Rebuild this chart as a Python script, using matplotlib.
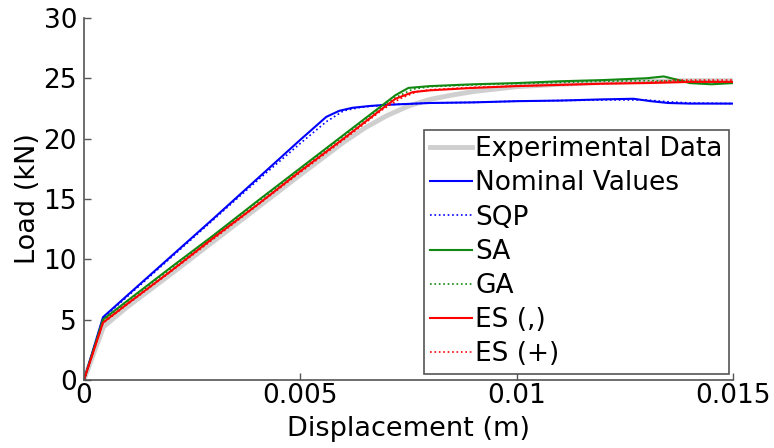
import matplotlib.pyplot as plt

# ---------------- DATA ----------------
exp_x = [0, 0.00045, 0.001, 0.002, 0.003, 0.004, 0.005, 0.006, 0.0065, 0.007,
         0.0075, 0.008, 0.0085, 0.009, 0.010, 0.011, 0.012, 0.013, 0.014, 0.015]
exp_y = [0, 4.4, 6.05, 8.75, 11.5, 14.25, 17.0, 19.7, 20.9, 21.9,
         22.7, 23.25, 23.6, 23.9, 24.3, 24.5, 24.65, 24.75, 24.8, 24.8]

nom_x = [0, 0.00044, 0.001, 0.002, 0.003, 0.004, 0.005, 0.0056, 0.0059, 0.0062, 0.0066,
         0.007, 0.008, 0.009, 0.010, 0.011, 0.012, 0.0127, 0.0131, 0.0135, 0.014, 0.015]
nom_y = [0, 5.2, 7.0, 10.2, 13.4, 16.65, 19.9, 21.8, 22.3, 22.55, 22.7,
         22.8, 22.95, 23.0, 23.1, 23.15, 23.25, 23.3, 23.1, 22.95, 22.9, 22.9]

sqp_x = [0, 0.00044, 0.001, 0.002, 0.003, 0.004, 0.005, 0.0056, 0.006, 0.0064,
         0.007, 0.008, 0.009, 0.010, 0.011, 0.012, 0.013, 0.0135, 0.014, 0.015]
sqp_y = [0, 5.1, 6.9, 10.1, 13.3, 16.5, 19.6, 21.4, 22.3, 22.6,
         22.8, 22.95, 23.0, 23.1, 23.15, 23.2, 23.2, 23.05, 22.95, 22.9]

sa_x = [0, 0.00044, 0.001, 0.002, 0.003, 0.004, 0.005, 0.006, 0.0068, 0.0072, 0.0075,
        0.008, 0.009, 0.010, 0.011, 0.012, 0.013, 0.0134, 0.0138, 0.014, 0.0145, 0.015]
sa_y = [0, 5.0, 6.55, 9.3, 12.0, 14.8, 17.55, 20.3, 22.5, 23.6, 24.2,
        24.35, 24.5, 24.6, 24.75, 24.85, 25.0, 25.15, 24.8, 24.6, 24.5, 24.6]

ga_x = [0, 0.00044, 0.001, 0.002, 0.003, 0.004, 0.005, 0.006, 0.0068, 0.0072, 0.0076,
        0.008, 0.009, 0.010, 0.011, 0.012, 0.013, 0.014, 0.015]
ga_y = [0, 4.9, 6.45, 9.2, 11.9, 14.7, 17.45, 20.2, 22.4, 23.4, 24.1,
        24.3, 24.45, 24.55, 24.65, 24.75, 24.8, 24.75, 24.7]

esc_x = [0, 0.00044, 0.001, 0.002, 0.003, 0.004, 0.005, 0.006, 0.0069, 0.0072, 0.0076,
         0.008, 0.009, 0.010, 0.011, 0.012, 0.013, 0.014, 0.015]
esc_y = [0, 4.75, 6.3, 9.0, 11.8, 14.5, 17.3, 20.0, 22.5, 23.3, 23.85,
         24.0, 24.2, 24.35, 24.45, 24.55, 24.6, 24.7, 24.7]

esp_x = [0, 0.00044, 0.001, 0.002, 0.003, 0.004, 0.005, 0.006, 0.0069, 0.0073, 0.0077,
         0.008, 0.009, 0.010, 0.011, 0.012, 0.013, 0.0137, 0.014, 0.015]
esp_y = [0, 4.7, 6.25, 8.95, 11.7, 14.45, 17.2, 19.9, 22.4, 23.3, 23.9,
         24.05, 24.25, 24.35, 24.45, 24.55, 24.65, 24.85, 24.85, 24.85]

# ---------------- PLOTTING ----------------
plt.rcParams['font.family'] = ['DejaVu Sans']
fig = plt.figure(figsize=(7.74, 4.48), dpi=100)
ax = fig.add_axes([0.1085, 0.152, 0.8385, 0.808])

ax.plot(exp_x, exp_y, color='#cfcfcf', lw=3.5, label='Experimental Data')
ax.plot(nom_x, nom_y, color='#0000ff', lw=1.5, label='Nominal Values')
ax.plot(sqp_x, sqp_y, color='#0000ff', lw=1.2, ls=':', label='SQP')
ax.plot(sa_x, sa_y, color='#118811', lw=1.5, label='SA')
ax.plot(ga_x, ga_y, color='#118811', lw=1.2, ls=':', label='GA')
ax.plot(esc_x, esc_y, color='#ff0000', lw=1.5, label='ES (,)')
ax.plot(esp_x, esp_y, color='#ff0000', lw=1.2, ls=':', label='ES (+)')

ax.set_xlim(0, 0.015)
ax.set_ylim(0, 30)
ax.set_xticks([0, 0.005, 0.01, 0.015])
ax.set_xticklabels(['0', '0.005', '0.01', '0.015'])
ax.set_yticks([0, 5, 10, 15, 20, 25, 30])

for side in ['top', 'right']:
    ax.spines[side].set_visible(False)
for side in ['left', 'bottom']:
    ax.spines[side].set_color('#555555')
    ax.spines[side].set_linewidth(1.2)
ax.tick_params(direction='in', length=5, width=1, color='#555555',
               labelsize=19, pad=2)
ax.tick_params(axis='y', pad=5)

ax.set_xlabel('Displacement (m)', fontsize=19.5, labelpad=5)
ax.set_ylabel('Load (kN)', fontsize=19.5, labelpad=2)

leg = ax.legend(loc='lower right', bbox_to_anchor=(0.994, 0.0166), fontsize=19,
                handlelength=1.6, handletextpad=0.1, labelspacing=0.31,
                borderpad=0.25, fancybox=False, framealpha=1, borderaxespad=0)
leg.get_frame().set_edgecolor('#555555')
leg.get_frame().set_linewidth(1.2)

fig.savefig('out.png', dpi=100)
